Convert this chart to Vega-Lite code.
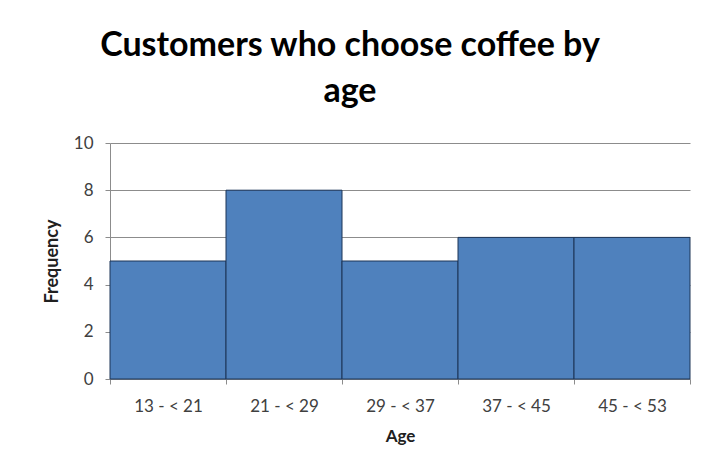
{
  "$schema": "https://vega.github.io/schema/vega-lite/v6.json",
  "width": 580,
  "height": 236,
  "autosize": {"type": "none"},
  "padding": {"left": 110, "top": 143, "right": 12, "bottom": 95},
  "background": "white",
  "title": {
    "text": ["Customers who choose coffee by", "age"],
    "font": "Lato",
    "fontSize": 34,
    "fontWeight": "bold",
    "color": "#000000",
    "anchor": "middle",
    "frame": "group",
    "dx": -50,
    "lineHeight": 46,
    "offset": 25
  },
  "data": {
    "values": [
      {"age": "13 - < 21", "frequency": 5},
      {"age": "21 - < 29", "frequency": 8},
      {"age": "29 - < 37", "frequency": 5},
      {"age": "37 - < 45", "frequency": 6},
      {"age": "45 - < 53", "frequency": 6}
    ]
  },
  "mark": {"type": "bar", "color": "#4F81BD", "stroke": "#1C3557", "strokeWidth": 1},
  "encoding": {
    "x": {
      "field": "age",
      "type": "nominal",
      "sort": null,
      "scale": {"paddingInner": 0, "paddingOuter": 0},
      "axis": {
        "title": "Age",
        "labelAngle": 0,
        "tickBand": "extent",
        "labelFont": "Lato",
        "labelFontSize": 17,
        "labelColor": "#404040",
        "labelPadding": 14,
        "titleFont": "Lato",
        "titleFontSize": 17,
        "titleFontWeight": "bold",
        "titleColor": "#202020",
        "titlePadding": 14,
        "domainColor": "#8C8C8C",
        "tickColor": "#8C8C8C",
        "tickSize": 5,
        "grid": false
      }
    },
    "y": {
      "field": "frequency",
      "type": "quantitative",
      "scale": {"domain": [0, 10]},
      "axis": {
        "title": "Frequency",
        "values": [0, 2, 4, 6, 8, 10],
        "labelFont": "Lato",
        "labelFontSize": 17,
        "labelColor": "#404040",
        "labelPadding": 12,
        "titleFont": "Lato",
        "titleFontSize": 18,
        "titleFontWeight": "bold",
        "titleColor": "#202020",
        "titlePadding": 12,
        "domainColor": "#8C8C8C",
        "tickColor": "#8C8C8C",
        "tickSize": 5,
        "gridColor": "#8C8C8C",
        "gridOpacity": 1
      }
    }
  },
  "config": {"view": {"stroke": null}}
}
